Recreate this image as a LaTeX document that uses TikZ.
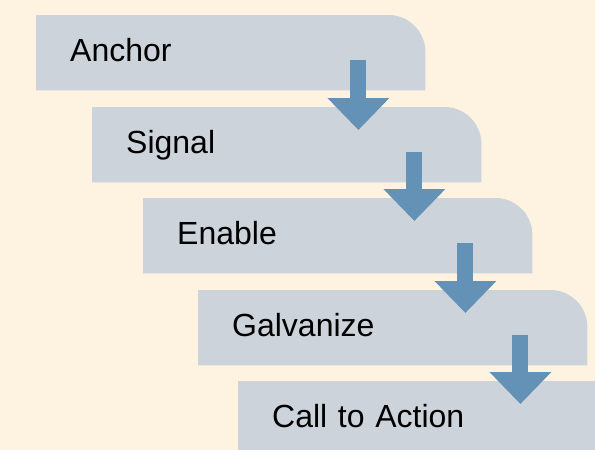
\documentclass[tikz,border=0pt]{standalone}
\usepackage{fontspec}
\setmainfont{Liberation Sans}
\usetikzlibrary{arrows.meta,calc,backgrounds}
\definecolor{cream}{HTML}{FEF3E1}
\definecolor{stagegray}{HTML}{CCD3DA}
\definecolor{flowblue}{HTML}{6392B6}
\tikzset{
	stage/.style={anchor=north west, minimum width=389pt, inner xsep=34pt, inner ysep=0pt,
		text width=321pt, align=left, text height=46pt, text depth=29pt},
	flow/.style={flowblue, line width=16pt, -{Triangle[width=60pt,length=32pt]}}
}
\begin{document}
\begin{tikzpicture}[x=1pt, y=-1pt, font=\fontsize{32}{38}\selectfont]
	\useasboundingbox (0,0) rectangle (595,450);
	\clip (0,0) rectangle (595,450);
	% stages
	\node[stage] (s1) at (36,15) {Anchor};
	\node[stage] (s2) at (92,107) {Signal};
	\node[stage] (s3) at (143,198) {Enable};
	\node[stage] (s4) at (198,290) {Galvanize};
	\node[stage] (s5) at (238,381) {Call to Action};
	\begin{scope}[on background layer]
		\fill[cream] (0,0) rectangle (595,450);
		\foreach \i in {1,...,5}
		\fill[stagegray] (s\i.south west) |- ([xshift=-37pt]s\i.north east)
			arc[start angle=90, end angle=0, radius=37pt] -- (s\i.south east) -- cycle;
	\end{scope}
	% arrows
	\foreach \i/\j in {1/2,2/3,3/4,4/5}{
		\coordinate (a\i) at ($(s\i.south east)+(-67,-30)$);
		\coordinate (b\i) at ($(a\i |- s\j.north)+(0,23)$);
		\draw[flow] (a\i) -- (b\i);
	}
\end{tikzpicture}
\end{document}
